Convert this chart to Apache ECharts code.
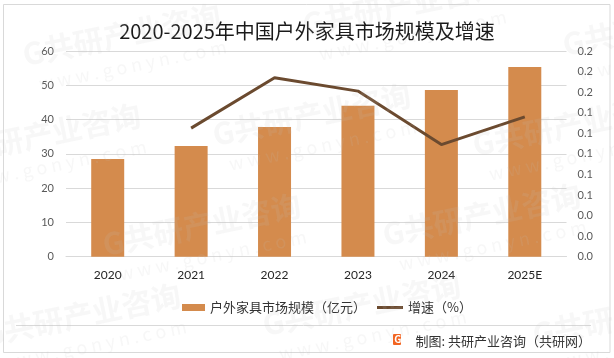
<!DOCTYPE html>
<html>
<head>
<meta charset="utf-8">
<style>
html,body{margin:0;padding:0;background:#fff;}
#main{width:614px;height:358px;}
</style>
<script src="https://cdn.jsdelivr.net/npm/echarts@6/dist/echarts.min.js"></script>
</head>
<body>
<div id="main"></div>
<script>
var categories = ['2020', '2021', '2022', '2023', '2024', '2025E'];
var marketSize = [28.5, 32.3, 37.8, 44.0, 48.6, 55.3];
var growthRate = [null, 0.125, 0.174, 0.161, 0.109, 0.136];
var leftTickLabels = ['0', '10', '20', '30', '40', '50', '60'];
var rightTickLabels = ['0.0', '0.0', '0.0', '0.1', '0.1', '0.1', '0.1', '0.1', '0.2', '0.2', '0.2'];
var titleText = '2020-2025年中国户外家具市场规模及增速';
var seriesNames = ['户外家具市场规模（亿元）', '增速（%）'];
var footerText = '制图: 共研产业咨询（共研网）';

var FONT = '"Noto Sans CJK SC", "Noto Sans", sans-serif';

var wmPositions = [
  [20, 40], [300, 10], [560, 30],
  [-60, 140], [210, 120], [470, 130],
  [100, 230], [380, 220], [640, 230],
  [-20, 320], [260, 310], [530, 320]
];
var watermarks = wmPositions.map(function (p) {
  return {
    type: 'group', x: p[0], y: p[1], rotation: 0.2, silent: true, z: 100,
    children: [
      { type: 'text', x: 0, y: 0, z: 100, style: { text: 'G共研产业咨询', font: 'bold 30px ' + FONT, fill: 'rgba(190,190,190,0.13)' } },
      { type: 'text', x: 10, y: 38, z: 100, style: { text: 'w w w . g o n y n . c o m', font: '18px ' + FONT, fill: 'rgba(190,190,190,0.13)' } }
    ]
  };
});

var chart = echarts.init(document.getElementById('main'), null, { renderer: 'canvas' });
chart.setOption({
  backgroundColor: '#ffffff',
  animation: false,
  title: {
    text: titleText,
    left: 'center',
    top: 16,
    textStyle: { fontFamily: FONT, fontSize: 20, fontWeight: 'normal', color: '#1a1a1a' }
  },
  grid: { left: 66, right: 47.5, top: 51, bottom: 101.3 },
  legend: [
    {
      left: 177,
      top: 296,
      itemWidth: 23,
      itemHeight: 7,
      textStyle: { fontFamily: FONT, fontSize: 13, color: '#333' },
      data: [{ name: seriesNames[0], icon: 'rect' }]
    },
    {
      left: 372,
      top: 296,
      itemWidth: 26,
      itemHeight: 3,
      textStyle: { fontFamily: FONT, fontSize: 13, color: '#333' },
      data: [{ name: seriesNames[1], icon: 'rect' }]
    }
  ],
  xAxis: {
    type: 'category',
    data: categories,
    axisLine: { lineStyle: { color: '#d9d9d9', width: 1 } },
    axisTick: { show: false },
    axisLabel: { color: '#262626', fontSize: 12, margin: 12, fontFamily: 'Lato, "Liberation Sans", sans-serif' }
  },
  yAxis: [
    {
      type: 'value', min: 0, max: 60, interval: 10,
      axisLine: { show: false }, axisTick: { show: false },
      splitLine: { lineStyle: { color: '#d9d9d9', width: 1 } },
      axisLabel: {
        color: '#595959', fontSize: 11, margin: 12, fontFamily: 'Lato, "Liberation Sans", sans-serif',
        formatter: function (v, i) { return leftTickLabels[i]; }
      }
    },
    {
      type: 'value', min: 0, max: 0.2, interval: 0.02,
      axisLine: { show: false }, axisTick: { show: false },
      splitLine: { show: false },
      axisLabel: {
        color: '#595959', fontSize: 11, margin: 11, fontFamily: 'Lato, "Liberation Sans", sans-serif',
        formatter: function (v, i) { return rightTickLabels[i]; }
      }
    }
  ],
  series: [
    {
      name: seriesNames[0], type: 'bar', data: marketSize, yAxisIndex: 0,
      barWidth: 33,
      itemStyle: { color: '#d48b4d' }
    },
    {
      name: seriesNames[1], type: 'line', data: growthRate, yAxisIndex: 1,
      symbol: 'none', connectNulls: false,
      lineStyle: { color: '#6b4a2f', width: 3 },
      itemStyle: { color: '#6b4a2f' }
    }
  ],
  graphic: [
    { type: 'rect', silent: true, shape: { x: 3.5, y: 4.5, width: 606.5, height: 348 }, style: { fill: 'none', stroke: '#d9d9d9', lineWidth: 1 } },
    { type: 'line', silent: true, shape: { x1: 16, y1: 325.5, x2: 591, y2: 325.5 }, style: { stroke: '#d9d9d9', lineWidth: 1 } },
    { type: 'rect', silent: true, shape: { x: 393, y: 334, width: 8, height: 11, r: 1 }, style: { fill: '#f26522' } },
    { type: 'text', silent: true, x: 394.2, y: 334.5, style: { text: 'G', font: 'bold 10px ' + FONT, fill: '#fff' } },
    { type: 'text', silent: true, x: 591, y: 341, style: { text: footerText, font: '13px ' + FONT, fill: '#333', textAlign: 'right', textVerticalAlign: 'middle' } }
  ].concat(watermarks)
});
</script>
</body>
</html>
